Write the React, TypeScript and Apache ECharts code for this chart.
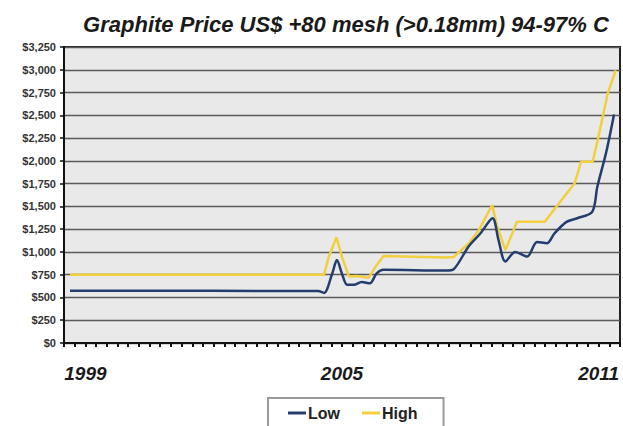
import React, { useEffect, useRef } from "react";
import * as echarts from "echarts";

const title = "Graphite Price US$ +80 mesh (>0.18mm) 94-97% C";
const labelYears = [1999, 2005, 2011];

const lowYears = [1999.14, 2004.94, 2005.08, 2005.27, 2005.38, 2005.5, 2005.62, 2005.78, 2005.96, 2006.15, 2006.31, 2006.47, 2007.93, 2008.11, 2008.46, 2008.74, 2009.02, 2009.16, 2009.32, 2009.55, 2009.83, 2010.06, 2010.29, 2010.47, 2010.75, 2011.0, 2011.35, 2011.47, 2011.68, 2011.86];
const lowValues = [575, 570, 550, 760, 910, 760, 640, 640, 670, 655, 765, 805, 795, 810, 1060, 1205, 1370, 1130, 895, 1000, 950, 1110, 1095, 1205, 1330, 1370, 1440, 1715, 2100, 2510];

const highYears = [1999.14, 2005.08, 2005.19, 2005.37, 2005.5, 2005.66, 2005.85, 2006.12, 2006.31, 2006.47, 2007.93, 2008.11, 2008.47, 2008.7, 2009.01, 2009.13, 2009.32, 2009.59, 2010.24, 2010.51, 2010.94, 2011.09, 2011.36, 2011.48, 2011.71, 2011.9];
const highValues = [750, 750, 945, 1160, 945, 730, 735, 715, 855, 955, 940, 945, 1095, 1240, 1515, 1280, 1020, 1330, 1330, 1495, 1755, 1990, 1990, 2230, 2735, 2995];

const seriesNames = ["Low", "High"];
const seriesColors = ["#243d70", "#f2cf3c"];

export default function App() {
  const ref = useRef<HTMLDivElement>(null);
  useEffect(() => {
    if (!ref.current) return;
    const chart = echarts.init(ref.current, null, { renderer: "svg" });
    const fmtMoney = (v: number) => "$" + v.toLocaleString("en-US");
    chart.setOption({
      animation: false,
      backgroundColor: "#ffffff",
      title: {
        text: title,
        left: 341,
        textAlign: "center",
        top: 8,
        textStyle: {
          fontFamily: "Liberation Sans, Arial, sans-serif",
          fontSize: 22,
          fontWeight: "bold",
          fontStyle: "italic",
          color: "#1a1a1a",
        },
      },
      legend: {
        data: seriesNames,
        left: 268,
        top: 398,
        icon: "rect",
        itemWidth: 18,
        itemHeight: 3,
        itemGap: 22,
        padding: [7, 26, 7, 20],
        borderColor: "#999999",
        borderWidth: 2,
        backgroundColor: "#ffffff",
        textStyle: {
          fontFamily: "Liberation Sans, Arial, sans-serif",
          fontSize: 16,
          fontWeight: "bold",
          color: "#222",
          padding: [0, 0, 0, -3],
        },
      },
      grid: {
        left: 64,
        top: 47,
        width: 562,
        height: 296,
        show: true,
        backgroundColor: "#e9e9e9",
        borderColor: "#222",
        borderWidth: 2,
      },
      xAxis: {
        type: "value",
        min: 1999,
        max: 2012,
        interval: 0.25,
        axisLine: { show: true, lineStyle: { color: "#111", width: 2 } },
        axisTick: { show: true, length: 4, lineStyle: { color: "#111", width: 2 } },
        splitLine: { show: false },
        axisLabel: {
          showMinLabel: true,
          showMaxLabel: true,
          margin: 21,
          fontFamily: "Liberation Sans, Arial, sans-serif",
          fontSize: 19,
          fontWeight: "bold",
          fontStyle: "italic",
          color: "#1a1a1a",
          formatter: (v: number) => {
            const y = Math.floor(v);
            if (Math.abs(v - y - 0.5) < 1e-6 && labelYears.includes(y)) return String(y);
            return "";
          },
        },
      },
      yAxis: {
        type: "value",
        min: 0,
        max: 3250,
        interval: 250,
        axisLine: { show: true, lineStyle: { color: "#111", width: 2 } },
        axisTick: { show: true, length: 4, lineStyle: { color: "#111", width: 1.5 } },
        splitLine: { show: true, lineStyle: { color: "#5a5a5a", width: 1.3 } },
        axisLabel: {
          margin: 8,
          fontFamily: "Liberation Sans, Arial, sans-serif",
          fontSize: 11,
          fontWeight: "bold",
          color: "#333",
          formatter: fmtMoney,
        },
      },
      series: [
        {
          name: seriesNames[0],
          type: "line",
          symbol: "none",
          smooth: 0.3,
          data: lowYears.map((y, i) => [y, lowValues[i]]),
          lineStyle: { color: seriesColors[0], width: 2.5 },
          itemStyle: { color: seriesColors[0] },
          z: 3,
        },
        {
          name: seriesNames[1],
          type: "line",
          symbol: "none",
          data: highYears.map((y, i) => [y, highValues[i]]),
          lineStyle: { color: seriesColors[1], width: 2.5 },
          itemStyle: { color: seriesColors[1] },
          z: 2,
        },
      ],
    });
    return () => chart.dispose();
  }, []);
  return (
    <div
      ref={ref}
      style={{ position: "absolute", left: 0, top: 0, width: 623, height: 426 }}
    />
  );
}
